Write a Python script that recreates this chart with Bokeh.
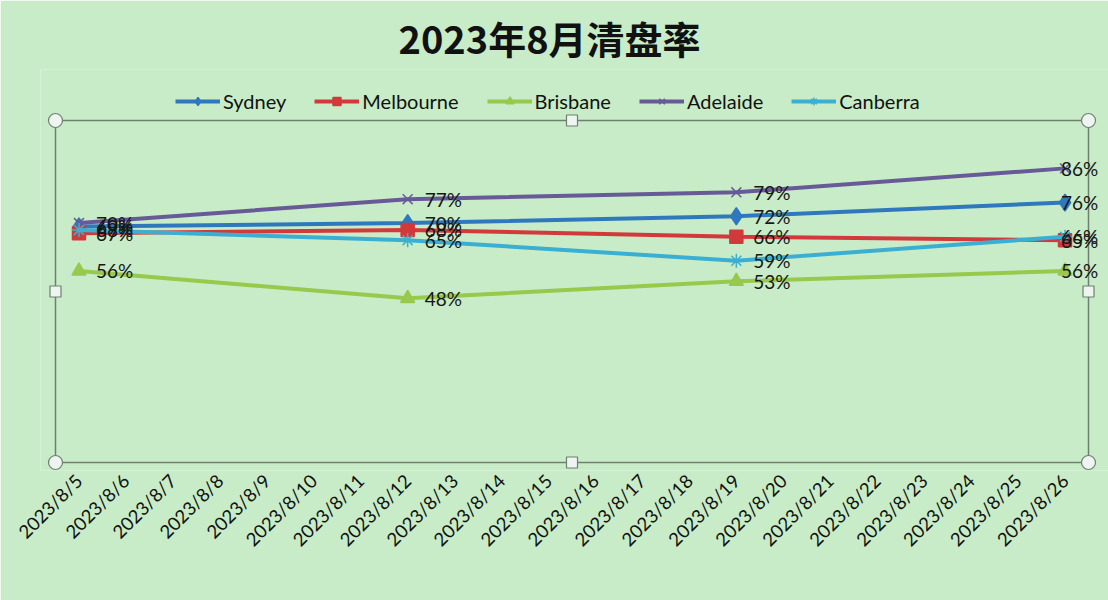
import math
from bokeh.plotting import figure
from bokeh.models import (ColumnDataSource, Range1d, Legend, LegendItem,
                          LabelSet, FixedTicker)
from bokeh.core.properties import value
from bokeh.embed import file_html
from bokeh.resources import INLINE

# ---- data ----
categories = ["2023/8/5", "2023/8/6", "2023/8/7", "2023/8/8", "2023/8/9", "2023/8/10",
              "2023/8/11", "2023/8/12", "2023/8/13", "2023/8/14", "2023/8/15", "2023/8/16",
              "2023/8/17", "2023/8/18", "2023/8/19", "2023/8/20", "2023/8/21", "2023/8/22",
              "2023/8/23", "2023/8/24", "2023/8/25", "2023/8/26"]
sample_dates = ["2023/8/5", "2023/8/12", "2023/8/19", "2023/8/26"]
sydney = [69, 70, 72, 76]
melbourne = [67, 68, 66, 65]
brisbane = [56, 48, 53, 56]
adelaide = [70, 77, 79, 86]
canberra = [68, 65, 59, 66]

series = [
    ("Sydney", sydney, "#2f78bd", "diamond", 17, 1.5),
    ("Melbourne", melbourne, "#d2393b", "square", 13, 1.5),
    ("Brisbane", brisbane, "#98c84c", "triangle", 14, 1.5),
    ("Adelaide", adelaide, "#675a97", "x", 14, 1.5),
    ("Canberra", canberra, "#3aafd2", "asterisk", 14, 1.5),
]

BG = "#c8ecc8"
FONT = "Lato"
n = len(categories)
xs = [categories.index(d) for d in sample_dates]

# frame: x 40..1108 px, y 69..470 px ; chart box (Excel plot area) is -0.5..n-0.5 x 0..100
PX_X = (1088 - 55) / n
PX_Y = (462 - 120) / 100.0
x_start = -0.5 - (55 - 40) / PX_X
x_end = n - 0.5 + (1108 - 1088) / PX_X
y_start = -(470 - 462) / PX_Y
y_end = (462 - 69) / PX_Y

p = figure(width=1108, height=600, x_range=Range1d(x_start, x_end),
           y_range=Range1d(y_start, y_end), output_backend="svg", toolbar_location=None,
           min_border_left=40, min_border_right=0, min_border_top=69,
           min_border_bottom=130, title="2023年8月清盘率")
p.background_fill_color = BG
p.border_fill_color = BG
p.outline_line_color = None
p.xgrid.visible = False
p.ygrid.visible = False
p.yaxis.visible = False

p.title.align = "left"
p.title.offset = 358
p.title.text_font = "Noto Sans CJK SC"
p.title.text_font_size = "38px"
p.title.text_font_style = "bold"
p.title.text_color = "#111111"

ax = p.xaxis[0]
ax.ticker = FixedTicker(ticks=list(range(n)))
ax.major_label_overrides = {i: c for i, c in enumerate(categories)}
ax.axis_line_color = None
ax.major_tick_line_color = None
ax.minor_tick_line_color = None
ax.major_label_orientation = math.pi / 4
ax.major_label_text_font = FONT
ax.major_label_text_font_size = "18.5px"
ax.major_label_text_color = "#111111"
ax.major_label_standoff = 1

# Excel plot-area box with selection handles
p.quad(left=[-0.5], right=[n - 0.5], bottom=[0], top=[100], fill_color=None,
       line_color="#6f7f70", line_width=1.5)

items = []
for name, vals, color, marker, size, lw in series:
    offs = [17 if i < len(vals) - 1 else -4 for i in range(len(vals))]
    src = ColumnDataSource(dict(x=xs, y=vals, lbl=[f"{v}%" for v in vals], off=offs))
    ln = p.line("x", "y", source=src, line_color=color, line_width=4)
    sc = p.scatter("x", "y", source=src, marker=marker, size=size,
                   fill_color=color, line_color=color, line_width=lw)
    labels = LabelSet(x="x", y="y", text="lbl", source=src, x_offset="off",
                      text_baseline="middle", text_align="left",
                      text_font=value(FONT), text_font_size="19px",
                      text_color="#161616")
    p.add_layout(labels)
    items.append(LegendItem(label=name, renderers=[ln, sc]))

p.scatter(x=[-0.5, -0.5, n - 0.5, n - 0.5], y=[0, 100, 0, 100], marker="circle",
          size=14, fill_color="#eef5f1", line_color="#6f7f70", line_width=1.2)
p.scatter(x=[(n - 1) / 2, (n - 1) / 2, -0.5, n - 0.5], y=[0, 100, 50, 50],
          marker="square", size=11, fill_color="#eef5f1", line_color="#6f7f70",
          line_width=1.2)

legend = Legend(items=items, orientation="horizontal", location=(135, 357),
                background_fill_alpha=0, border_line_color=None,
                label_text_font=FONT, label_text_font_size="20px",
                label_text_color="#111111", glyph_width=45, glyph_height=20,
                label_standoff=3, spacing=28, margin=0, padding=2)
p.add_layout(legend, "center")

html = file_html(p, INLINE)
open("out.html", "w").write(html)
